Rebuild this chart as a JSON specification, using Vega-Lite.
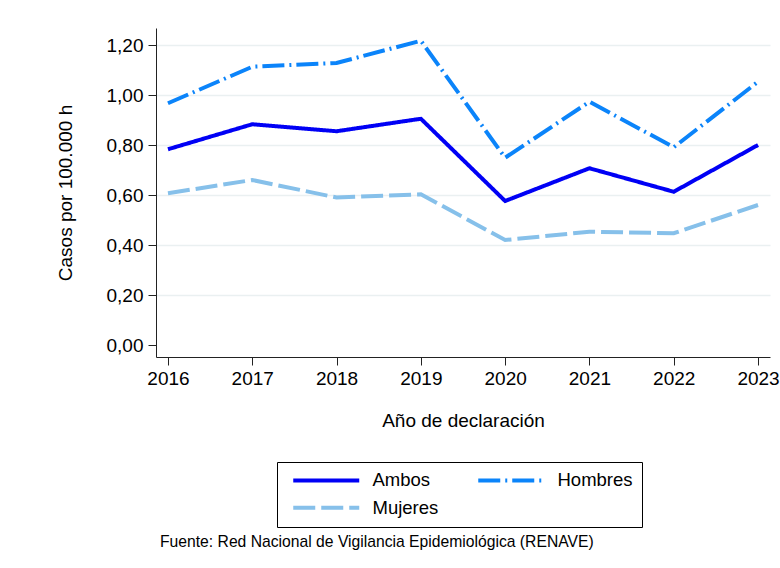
{
  "$schema": "https://vega.github.io/schema/vega-lite/v6.json",
  "width": 614,
  "height": 329,
  "autosize": {"type": "none"},
  "padding": {"left": 156, "top": 28, "right": 10, "bottom": 211},
  "background": "white",
  "config": {
    "font": "Liberation Sans",
    "view": {"stroke": null},
    "locale": {"number": {"decimal": ",", "thousands": ".", "grouping": [3], "currency": ["", " €"]}}
  },
  "title": {
    "text": "Fuente: Red Nacional de Vigilancia Epidemiológica (RENAVE)",
    "orient": "bottom",
    "anchor": "start",
    "frame": "group",
    "fontSize": 15.7,
    "fontWeight": "normal",
    "color": "black",
    "offset": 7,
    "dx": 4
  },
  "data": {
    "values": [
      {"anio": 2016, "serie": "Ambos", "valor": 0.783},
      {"anio": 2017, "serie": "Ambos", "valor": 0.883},
      {"anio": 2018, "serie": "Ambos", "valor": 0.855},
      {"anio": 2019, "serie": "Ambos", "valor": 0.905},
      {"anio": 2020, "serie": "Ambos", "valor": 0.576},
      {"anio": 2021, "serie": "Ambos", "valor": 0.707},
      {"anio": 2022, "serie": "Ambos", "valor": 0.613},
      {"anio": 2023, "serie": "Ambos", "valor": 0.800},
      {"anio": 2016, "serie": "Hombres", "valor": 0.967},
      {"anio": 2017, "serie": "Hombres", "valor": 1.113},
      {"anio": 2018, "serie": "Hombres", "valor": 1.128},
      {"anio": 2019, "serie": "Hombres", "valor": 1.217},
      {"anio": 2020, "serie": "Hombres", "valor": 0.749},
      {"anio": 2021, "serie": "Hombres", "valor": 0.973},
      {"anio": 2022, "serie": "Hombres", "valor": 0.791},
      {"anio": 2023, "serie": "Hombres", "valor": 1.053},
      {"anio": 2016, "serie": "Mujeres", "valor": 0.607},
      {"anio": 2017, "serie": "Mujeres", "valor": 0.660},
      {"anio": 2018, "serie": "Mujeres", "valor": 0.590},
      {"anio": 2019, "serie": "Mujeres", "valor": 0.603},
      {"anio": 2020, "serie": "Mujeres", "valor": 0.420},
      {"anio": 2021, "serie": "Mujeres", "valor": 0.453},
      {"anio": 2022, "serie": "Mujeres", "valor": 0.447},
      {"anio": 2023, "serie": "Mujeres", "valor": 0.560}
    ]
  },
  "mark": {"type": "line", "strokeWidth": 4, "strokeCap": "butt", "strokeJoin": "miter"},
  "encoding": {
    "x": {
      "field": "anio",
      "type": "quantitative",
      "scale": {"domain": [2015.858, 2023.142], "nice": false, "zero": false},
      "axis": {
        "title": "Año de declaración",
        "values": [2016, 2017, 2018, 2019, 2020, 2021, 2022, 2023],
        "format": "d",
        "grid": false,
        "domainColor": "#222222",
        "tickColor": "#222222",
        "tickSize": 8,
        "labelFontSize": 19,
        "labelColor": "black",
        "labelPadding": 4,
        "labelFlush": false,
        "titleFontSize": 19,
        "titleFontWeight": "normal",
        "titleColor": "black",
        "titlePadding": 23
      }
    },
    "y": {
      "field": "valor",
      "type": "quantitative",
      "scale": {"domain": [-0.048, 1.268], "nice": false, "zero": false},
      "axis": {
        "title": "Casos por 100.000 h",
        "values": [0, 0.2, 0.4, 0.6, 0.8, 1.0, 1.2],
        "format": ".2f",
        "grid": true,
        "gridColor": "#EAF0F1",
        "gridWidth": 1.5,
        "gridOpacity": {"condition": {"test": "datum.value === 0", "value": 0}, "value": 1},
        "domainColor": "#222222",
        "tickColor": "#222222",
        "tickSize": 8,
        "labelFontSize": 19,
        "labelColor": "black",
        "labelPadding": 5,
        "titleFontSize": 19,
        "titleFontWeight": "normal",
        "titleColor": "black",
        "titlePadding": 31
      }
    },
    "color": {
      "field": "serie",
      "type": "nominal",
      "scale": {"domain": ["Ambos", "Hombres", "Mujeres"], "range": ["#0000F5", "#0B84FA", "#86C0EA"]},
      "legend": {
        "title": null,
        "orient": "none",
        "legendX": 121,
        "legendY": 434,
        "direction": "horizontal",
        "columns": 2,
        "columnPadding": 31,
        "rowPadding": 8.5,
        "padding": 9,
        "strokeColor": "black",
        "fillColor": "white",
        "symbolType": "M-4.714,0H4.714",
        "symbolSize": 196,
        "symbolStrokeWidth": 4,
        "symbolOffset": 31,
        "labelOffset": 37,
        "labelFontSize": 18.5,
        "labelColor": "black"
      }
    },
    "strokeDash": {
      "field": "serie",
      "type": "nominal",
      "scale": {"domain": ["Ambos", "Hombres", "Mujeres"], "range": [[1, 0], [22, 5, 2, 5], [22, 6]]},
      "legend": null
    }
  }
}
